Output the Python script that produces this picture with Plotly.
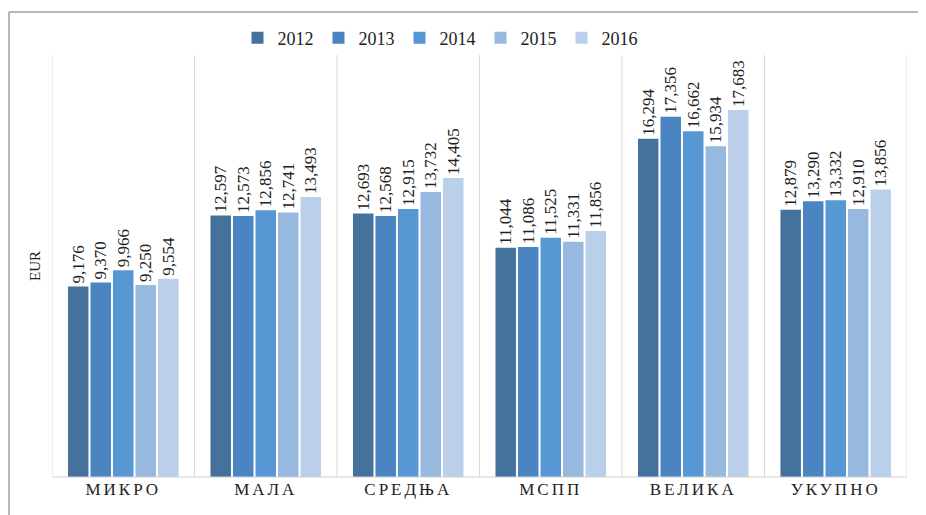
import plotly.graph_objects as go

categories = ["МИКРО", "МАЛА", "СРЕДЊА", "МСПП", "ВЕЛИКА", "УКУПНО"]
years = ["2012", "2013", "2014", "2015", "2016"]
v2012 = [9176, 12597, 12693, 11044, 16294, 12879]
v2013 = [9370, 12573, 12568, 11086, 17356, 13290]
v2014 = [9966, 12856, 12915, 11525, 16662, 13332]
v2015 = [9250, 12741, 13732, 11331, 15934, 12910]
v2016 = [9554, 13493, 14405, 11856, 17683, 13856]
series = [v2012, v2013, v2014, v2015, v2016]
colors = ["#44729D", "#4A85C2", "#5797D4", "#98B9DF", "#BACFEA"]

SERIF = "Liberation Serif"

fig = go.Figure()
for yr, vals, col in zip(years, series, colors):
    fig.add_trace(go.Bar(
        name=yr, x=categories, y=vals,
        marker=dict(color=col, line=dict(width=0)),
        text=[f"{v:,}" for v in vals],
        textposition="outside", textangle=-90,
        textfont=dict(family=SERIF, size=17, color="#222222"),
        constraintext="none", cliponaxis=False,
    ))

# the page places the figure 8px from the top-left corner
OFF = 8
W, H = 926 - OFF, 515 - OFF
ml, mr, mt, mb = 52 - OFF, 19, 55 - OFF, 38
pw, ph = W - ml - mr, H - mt - mb

shapes = []
for i in range(len(categories) + 1):
    shapes.append(dict(type="line", xref="x", yref="paper",
                       x0=i - 0.5, x1=i - 0.5, y0=0, y1=1,
                       line=dict(color="#D9D9D9", width=1)))
shapes.append(dict(type="line", xref="paper", yref="paper", x0=0, x1=1, y0=0, y1=0,
                   line=dict(color="#D0D0D0", width=1)))
# outer frame (left and top edges visible in the picture)
fx = (8 - OFF + 1 - ml) / pw
fy = 1 + (mt - (12 - OFF)) / ph
shapes.append(dict(type="line", xref="paper", yref="paper",
                   x0=fx, x1=fx, y0=-0.3, y1=fy,
                   line=dict(color="#8FA5B0", width=1.5)))
shapes.append(dict(type="line", xref="paper", yref="paper",
                   x0=fx, x1=1.2, y0=fy, y1=fy,
                   line=dict(color="#8FA5B0", width=1.5)))

fig.update_layout(
    width=W, height=H,
    margin=dict(l=ml, r=mr, t=mt, b=mb, autoexpand=False),
    paper_bgcolor="white", plot_bgcolor="white",
    barmode="group", bargap=0.21, bargroupgap=0.09,
    showlegend=True,
    legend=dict(orientation="h", x=(440 - OFF - ml) / pw, xanchor="center",
                y=1 + (mt - (38 - OFF)) / ph, yanchor="middle",
                bgcolor="rgba(0,0,0,0)",
                font=dict(family=SERIF, size=18, color="#222222"),
                tracegroupgap=0),
    xaxis=dict(showgrid=False, zeroline=False, showline=False, ticks="",
               range=[-0.5, len(categories) - 0.5],
               tickfont=dict(family=SERIF, size=17, color="#222222")),
    yaxis=dict(range=[0, 20330], showgrid=False, zeroline=False, showline=False,
               showticklabels=False, ticks="",
               title=dict(text="EUR", font=dict(family=SERIF, size=15, color="#222222"), standoff=6)),
    shapes=shapes,
    font=dict(family=SERIF),
)

post = """
document.querySelectorAll('.xtick text').forEach(function(t){ t.style.letterSpacing = '3px'; });
"""
fig.write_html("out.html", post_script=post, config={"displayModeBar": False})
